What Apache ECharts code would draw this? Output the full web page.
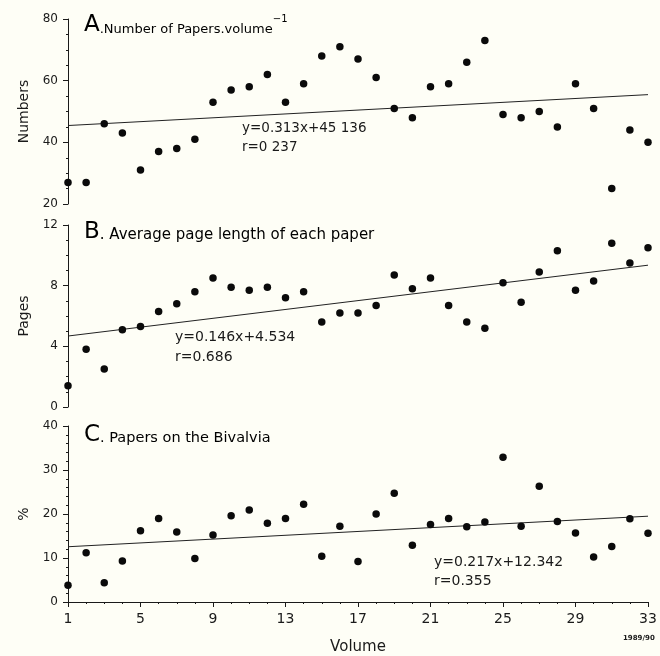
<!DOCTYPE html>
<html>
<head>
<meta charset="utf-8">
<script src="https://cdn.jsdelivr.net/npm/echarts@6/dist/echarts.min.js"></script>
<style>
html,body{margin:0;padding:0;background:#fefef6;}
#c{width:660px;height:656px;}
</style>
</head>
<body>
<div id="c"></div>
<script>
// ---- data ----
var volumes = ['1','2','3','4','5','6','7','8','9','10','11','12','13','14','15','16','17','18','19','20','21','22','23','24','25','26','27','28','29','30','31','32','33'];
var papersPerVolume = [27,27,46,43,31,37,38,41,53,57,58,62,53,59,68,71,67,61,51,48,58,59,66,73,49,48,50,45,59,51,25,44,40];
var avgPageLength = [1.4,3.8,2.5,5.1,5.3,6.3,6.8,7.6,8.5,7.9,7.7,7.9,7.2,7.6,5.6,6.2,6.2,6.7,8.7,7.8,8.5,6.7,5.6,5.2,8.2,6.9,8.9,10.3,7.7,8.3,10.8,9.5,10.5];
var bivalviaPct = [3.8,11.2,4.4,9.3,16.2,19.0,15.9,9.9,15.2,19.6,20.9,17.9,19.0,22.2,10.4,17.2,9.2,20.0,24.7,12.9,17.6,19.0,17.1,18.2,32.9,17.2,26.3,18.3,15.7,10.2,12.6,18.9,15.6];
// regression line end points (volume 1 and 33), as printed
var trendA = [['1',45.45],['33',55.47]];
var trendB = [['1',4.68],['33',9.35]];
var trendC = [['1',12.56],['33',19.50]];
var yTicksA = [20,80,20];   // min, max, interval
var yTicksB = [0,12,4];
var yTicksC = [0,40,10];

var FONT = 'DejaVu Sans';
var INK = '#1a1a1a';
var chart = echarts.init(document.getElementById('c'), null, {renderer:'canvas'});

function yAxis(idx, t, name, minorSplit){
  return {
    type:'value', gridIndex:idx, min:t[0], max:t[1], interval:t[2],
    name:name, nameLocation:'middle', nameGap:36, nameRotate:90,
    nameTextStyle:{fontFamily:FONT,fontSize:14,color:INK},
    axisLine:{show:true,lineStyle:{color:INK,width:1}},
    axisTick:{show:true,length:5,lineStyle:{color:INK,width:1}},
    minorTick:{show:true,splitNumber:minorSplit,length:2,lineStyle:{color:INK,width:1}},
    splitLine:{show:false},
    axisLabel:{fontFamily:FONT,fontSize:12,color:INK,margin:10}
  };
}
function xAxis(idx, visible){
  return {
    type:'category', gridIndex:idx, data:volumes, boundaryGap:false,
    show:visible,
    name: idx===2 ? 'Volume' : '', nameLocation:'middle', nameGap:38,
    nameTextStyle:{fontFamily:FONT,fontSize:15,color:INK},
    axisLine:{show:true,onZero:false,lineStyle:{color:INK,width:1}},
    axisTick:{show:true,interval:0,length:2,lineStyle:{color:INK,width:1}},
    axisLabel:{show:true,interval:3,fontFamily:FONT,fontSize:14,color:INK,margin:10},
    splitLine:{show:false}
  };
}
function scatter(xi, yi, data){
  return {type:'scatter', xAxisIndex:xi, yAxisIndex:yi, data:data, symbolSize:7.5,
          itemStyle:{color:'#0a0a0a',opacity:1}, silent:true, z:3};
}
function trend(xi, yi, data){
  return {type:'line', xAxisIndex:xi, yAxisIndex:yi, data:data, symbol:'none',
          lineStyle:{color:'#222',width:1}, silent:true, z:2};
}

function titleRich(size){
  return {
    L:{fontFamily:FONT,fontSize:23,color:INK,verticalAlign:'bottom',lineHeight:23},
    t:{fontFamily:FONT,fontSize:size,color:INK,verticalAlign:'bottom',lineHeight:23,padding:[0,0,1,0]},
    s:{fontFamily:FONT,fontSize:10,color:INK,verticalAlign:'top',lineHeight:23}
  };
}
function txt(x,y,s,size,extra){
  var st = {text:s, fontFamily:FONT, fontSize:size, fill:INK};
  if(extra){for(var k in extra) st[k]=extra[k];}
  return {type:'text', x:x, y:y, style:st, silent:true};
}

var option = {
  backgroundColor:'#fefef6',
  animation:false,
  grid:[
    {left:68, right:12, top:19, height:185},
    {left:68, right:12, top:225, height:182},
    {left:68, right:12, top:426, height:181}
  ],
  xAxis:[
    xAxis(0,false), xAxis(1,false), xAxis(2,true),
    {type:'category', gridIndex:2, data:volumes, boundaryGap:false, position:'bottom',
     axisLine:{show:false}, axisLabel:{show:false},
     axisTick:{show:true,interval:3,length:5,lineStyle:{color:INK,width:1}}, splitLine:{show:false}}
  ],
  yAxis:[
    yAxis(0,yTicksA,'Numbers',4),
    yAxis(1,yTicksB,'Pages',4),
    yAxis(2,yTicksC,'%',5)
  ],
  series:[
    scatter(0,0,papersPerVolume), trend(0,0,trendA),
    scatter(1,1,avgPageLength), trend(1,1,trendB),
    scatter(2,2,bivalviaPct), trend(2,2,trendC)
  ],
  graphic:[
    {type:'text', x:84, y:14, silent:true, style:{text:'{L|A}{t|.Number of Papers.volume}{s|−1}', rich:titleRich(13)}},
    {type:'text', x:84, y:221, silent:true, style:{text:'{L|B}{t|. Average page length of each paper}', rich:titleRich(15)}},
    {type:'text', x:84, y:424, silent:true, style:{text:'{L|C}{t|. Papers on the Bivalvia}', rich:titleRich(14.5)}},
    txt(242,121,'y=0.313x+45 136',13.5),
    txt(242,140,'r=0 237',13.5),
    txt(175,330,'y=0.146x+4.534',14),
    txt(175,350,'r=0.686',14),
    txt(434,555,'y=0.217x+12.342',14),
    txt(434,574,'r=0.355',14),
    txt(623,635,'1989/90',7,{fontWeight:'bold'})
  ]
};
chart.setOption(option);
</script>
</body>
</html>
